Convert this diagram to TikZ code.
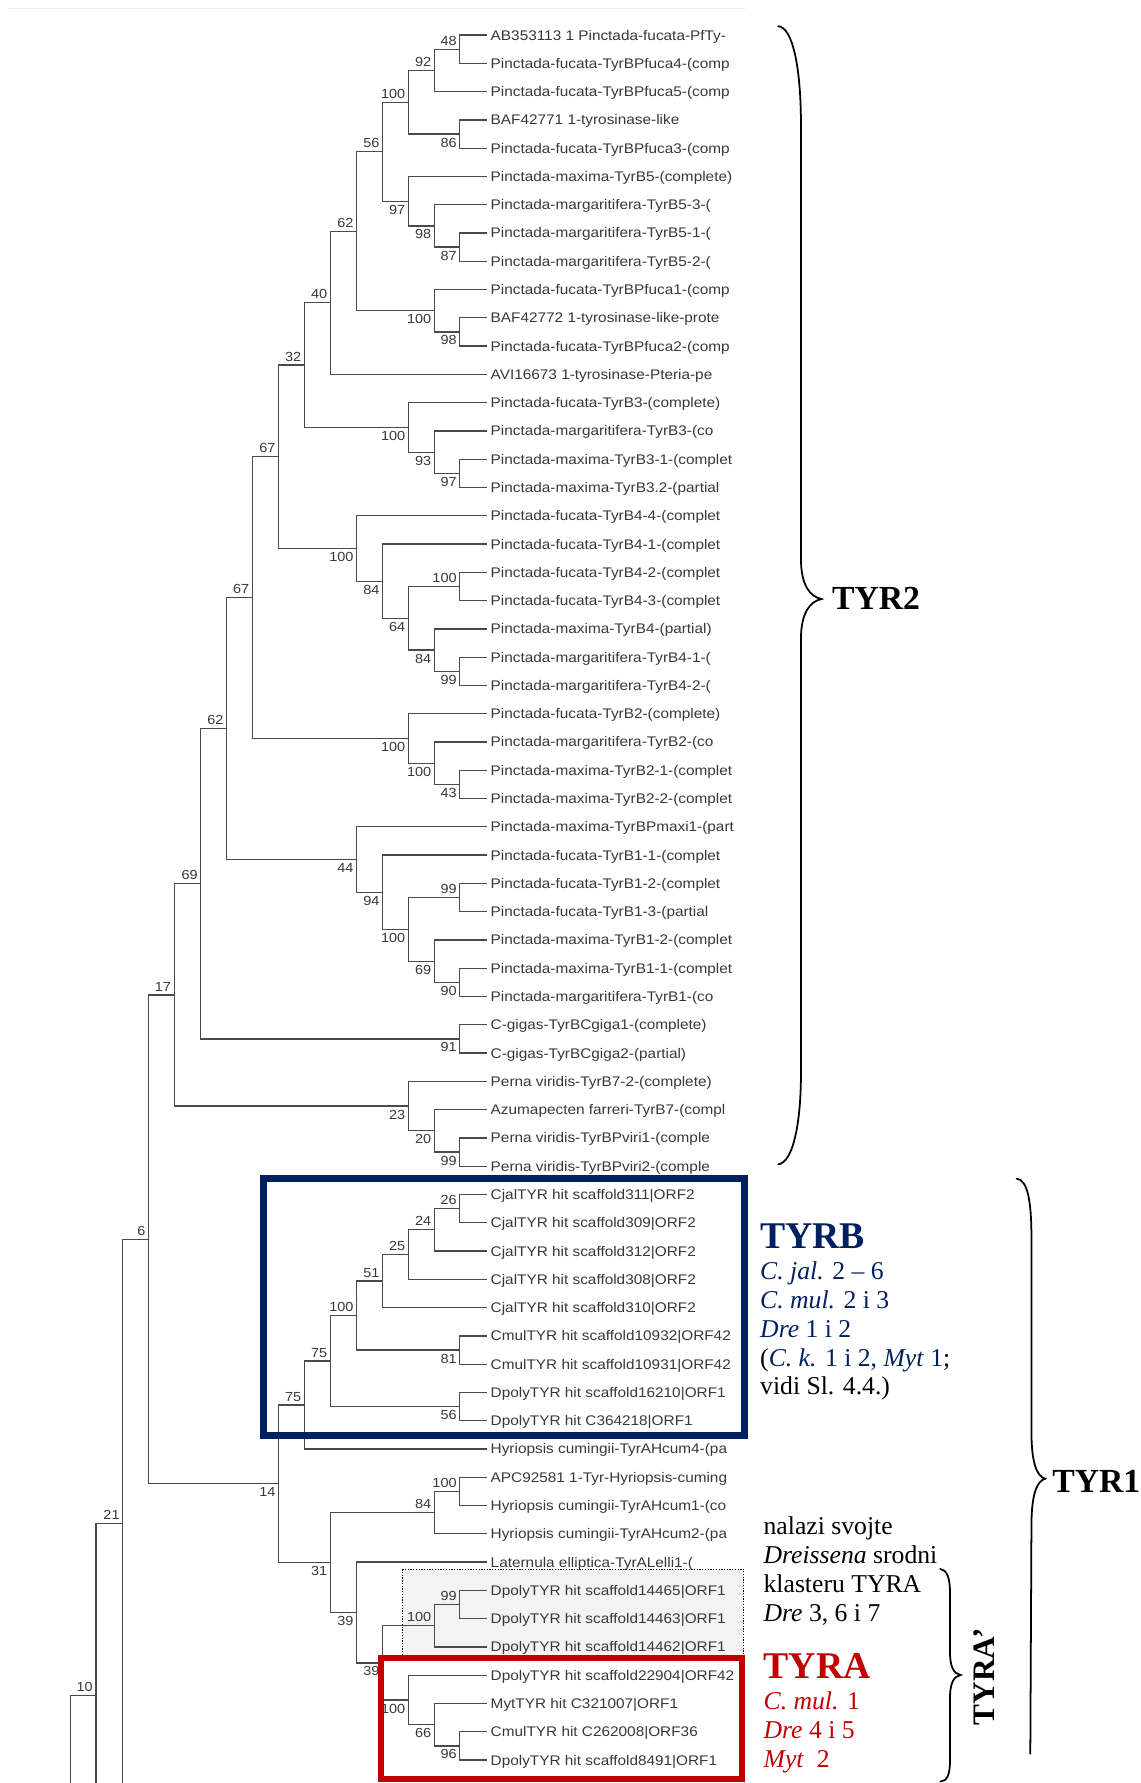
\documentclass[tikz,border=0pt]{standalone}
\usepackage{fontspec}
\setmainfont{Liberation Serif}
\newfontfamily\treefont[FakeStretch=1.1]{Liberation Sans}
\usetikzlibrary{calc}
\definecolor{tyrbblue}{HTML}{002060}
\definecolor{tyrared}{HTML}{C00000}
\definecolor{treegray}{HTML}{4A4A4A}
\definecolor{labgray}{HTML}{383838}
\definecolor{boxgray}{HTML}{F3F3F3}
\newcommand{\clade}[6]{%
\coordinate (#1m) at ($(#3)!.5!(#4)$);
\coordinate (#1) at (#2,0 |- #1m);
\draw[br] (#3) -| (#1) |- (#4);
\node[bs,#6] (#1b) at (#1) {#5};}

\begin{document}
\begin{tikzpicture}[x=0.025cm,y=-0.025cm,
leaf/.style={anchor=west,inner xsep=2pt,inner ysep=0pt,text height=6.2pt,text depth=0pt,font=\treefont\fontsize{8.7}{10}\selectfont,text=labgray},
bs/.style={inner xsep=1.8pt,inner ysep=2.2pt,font=\treefont\fontsize{8.2}{9}\selectfont,text=labgray},
bsup/.style={anchor=south east},
bsdn/.style={anchor=north east},
br/.style={draw=treegray,line width=.8pt},
note/.style={anchor=base west,inner sep=0pt,font=\fontsize{16}{18}\selectfont},
big/.style={anchor=base west,inner sep=0pt,font=\bfseries\fontsize{23.5}{26}\selectfont},
head/.style={anchor=base west,inner sep=0pt,font=\bfseries\fontsize{21}{24}\selectfont},
brace/.style={draw=black,line width=1.1pt,line cap=round}]
\useasboundingbox (0,0) rectangle (1000,1562.7);
\draw[gray!15,line width=.6pt] (6.7,7.3) -- (653,7.3);
\draw[fill=boxgray,line width=.6pt,dash pattern=on .8pt off .9pt] (353,1375.4) rectangle (652,1452);

% leaves
\foreach \lab [count=\i] in {AB353113 1 Pinctada-fucata-PfTy-,Pinctada-fucata-TyrBPfuca4-(comp,
Pinctada-fucata-TyrBPfuca5-(comp,BAF42771 1-tyrosinase-like,Pinctada-fucata-TyrBPfuca3-(comp,
Pinctada-maxima-TyrB5-(complete),Pinctada-margaritifera-TyrB5-3-(,Pinctada-margaritifera-TyrB5-1-(,
Pinctada-margaritifera-TyrB5-2-(,Pinctada-fucata-TyrBPfuca1-(comp,BAF42772 1-tyrosinase-like-prote,
Pinctada-fucata-TyrBPfuca2-(comp,AVI16673 1-tyrosinase-Pteria-pe,Pinctada-fucata-TyrB3-(complete),
Pinctada-margaritifera-TyrB3-(co,Pinctada-maxima-TyrB3-1-(complet,Pinctada-maxima-TyrB3.2-(partial,
Pinctada-fucata-TyrB4-4-(complet,Pinctada-fucata-TyrB4-1-(complet,Pinctada-fucata-TyrB4-2-(complet,
Pinctada-fucata-TyrB4-3-(complet,Pinctada-maxima-TyrB4-(partial),Pinctada-margaritifera-TyrB4-1-(,
Pinctada-margaritifera-TyrB4-2-(,Pinctada-fucata-TyrB2-(complete),Pinctada-margaritifera-TyrB2-(co,
Pinctada-maxima-TyrB2-1-(complet,Pinctada-maxima-TyrB2-2-(complet,Pinctada-maxima-TyrBPmaxi1-(part,
Pinctada-fucata-TyrB1-1-(complet,Pinctada-fucata-TyrB1-2-(complet,Pinctada-fucata-TyrB1-3-(partial,
Pinctada-maxima-TyrB1-2-(complet,Pinctada-maxima-TyrB1-1-(complet,Pinctada-margaritifera-TyrB1-(co,
C-gigas-TyrBCgiga1-(complete),C-gigas-TyrBCgiga2-(partial),Perna viridis-TyrB7-2-(complete),
Azumapecten farreri-TyrB7-(compl,Perna viridis-TyrBPviri1-(comple,Perna viridis-TyrBPviri2-(comple,
CjalTYR hit scaffold311|ORF2,CjalTYR hit scaffold309|ORF2,CjalTYR hit scaffold312|ORF2,
CjalTYR hit scaffold308|ORF2,CjalTYR hit scaffold310|ORF2,CmulTYR hit scaffold10932|ORF42,
CmulTYR hit scaffold10931|ORF42,DpolyTYR hit scaffold16210|ORF1,DpolyTYR hit C364218|ORF1,
Hyriopsis cumingii-TyrAHcum4-(pa,APC92581 1-Tyr-Hyriopsis-cuming,Hyriopsis cumingii-TyrAHcum1-(co,
Hyriopsis cumingii-TyrAHcum2-(pa,Laternula elliptica-TyrALelli1-(,DpolyTYR hit scaffold14465|ORF1,
DpolyTYR hit scaffold14463|ORF1,DpolyTYR hit scaffold14462|ORF1,DpolyTYR hit scaffold22904|ORF42,
MytTYR hit C321007|ORF1,CmulTYR hit C262008|ORF36,DpolyTYR hit scaffold8491|ORF1}
  \node[leaf] (l\i) at (427,{30.7+24.785*(\i-1)}) {\lab};

% TYR2 clades
\clade{c1}{403}{l1.west}{l2.west}{48}{bsup}
\clade{c2}{380.7}{c1}{l3.west}{92}{bsup}
\clade{c3}{403}{l4.west}{l5.west}{86}{bsdn}
\clade{c4}{358}{c2}{c3}{100}{bsup}
\clade{c5}{403}{l8.west}{l9.west}{87}{bsdn}
\clade{c6}{380.7}{l7.west}{c5}{98}{bsdn}
\clade{c7}{358}{l6.west}{c6}{97}{bsdn}
\clade{c8}{335.3}{c4}{c7}{56}{bsup}
\clade{c9}{403}{l11.west}{l12.west}{98}{bsdn}
\clade{c10}{380.7}{l10.west}{c9}{100}{bsdn}
\clade{c11}{312.6}{c8}{c10}{62}{bsup}
\clade{c12}{289.5}{c11}{l13.west}{40}{bsup}
\clade{c13}{403}{l16.west}{l17.west}{97}{bsdn}
\clade{c14}{380.7}{l15.west}{c13}{93}{bsdn}
\clade{c15}{358}{l14.west}{c14}{100}{bsdn}
\clade{c16}{266.8}{c12}{c15}{32}{bsup}
\clade{c17}{403}{l20.west}{l21.west}{100}{bsup}
\clade{c18}{403}{l23.west}{l24.west}{99}{bsdn}
\clade{c19}{380.7}{l22.west}{c18}{84}{bsdn}
\clade{c20}{358}{c17}{c19}{64}{bsdn}
\clade{c21}{335.3}{l19.west}{c20}{84}{bsdn}
\clade{c22}{312.6}{l18.west}{c21}{100}{bsdn}
\clade{c23}{244.3}{c16}{c22}{67}{bsup}
\clade{c24}{403}{l27.west}{l28.west}{43}{bsdn}
\clade{c25}{380.7}{l26.west}{c24}{100}{bsdn}
\clade{c26}{358}{l25.west}{c25}{100}{bsdn}
\clade{c27}{221.3}{c23}{c26}{67}{bsup}
\clade{c28}{403}{l31.west}{l32.west}{99}{bsup}
\clade{c29}{403}{l34.west}{l35.west}{90}{bsdn}
\clade{c30}{380.7}{l33.west}{c29}{69}{bsdn}
\clade{c31}{358}{c28}{c30}{100}{bsdn}
\clade{c32}{335.3}{l30.west}{c31}{94}{bsdn}
\clade{c33}{312.6}{l29.west}{c32}{44}{bsdn}
\clade{c34}{198.7}{c27}{c33}{62}{bsup}
\clade{c35}{403}{l36.west}{l37.west}{91}{bsdn}
\clade{c36}{176}{c34}{c35}{69}{bsup}
\clade{c37}{403}{l40.west}{l41.west}{99}{bsdn}
\clade{c38}{380.7}{l39.west}{c37}{20}{bsdn}
\clade{c39}{358}{l38.west}{c38}{23}{bsdn}
\clade{c40}{152.7}{c36}{c39}{17}{bsup}

% TYR1 clades
\clade{d1}{403}{l42.west}{l43.west}{26}{bsup}
\clade{d2}{380.7}{d1}{l44.west}{24}{bsup}
\clade{d3}{358}{d2}{l45.west}{25}{bsup}
\clade{d4}{335.3}{d3}{l46.west}{51}{bsup}
\clade{d5}{403}{l47.west}{l48.west}{81}{bsdn}
\clade{d6}{312.6}{d4}{d5}{100}{bsup}
\clade{d7}{403}{l49.west}{l50.west}{56}{bsdn}
\clade{d8}{289.5}{d6}{d7}{75}{bsup}
\clade{d9}{266.8}{d8}{l51.west}{75}{bsup}
\clade{d10}{403}{l52.west}{l53.west}{100}{bsup}
\clade{d11}{380.7}{d10}{l54.west}{84}{bsup}
\clade{d12}{403}{l56.west}{l57.west}{99}{bsup}
\clade{d13}{380.7}{d12}{l58.west}{100}{bsup}
\clade{d14}{403}{l61.west}{l62.west}{96}{bsdn}
\clade{d15}{380.7}{l60.west}{d14}{66}{bsdn}
\clade{d16}{358}{l59.west}{d15}{100}{bsdn}
\clade{d17}{335.3}{d13}{d16}{39}{bsdn}
\clade{d18}{312.6}{l55.west}{d17}{39}{bsdn}
\clade{d19}{289.5}{d11}{d18}{31}{bsdn}
\clade{d20}{244.3}{d9}{d19}{14}{bsdn}
\clade{d21}{130.3}{c40}{d20}{6}{bsup}

% stem, cut at the lower edge
\coordinate (r21) at (107.6,1335);
\coordinate (e21) at (107.6,1562.7);
\draw[br] (d21) -| (r21) -- (e21);
\node[bs,bsup] (r21b) at (r21) {21};
\coordinate (r10) at (84.1,1486);
\coordinate (e10) at (84.1,1562.7);
\draw[br] (r21) -| (r10) -- (e10);
\node[bs,bsup] (r10b) at (r10) {10};
\coordinate (e0) at (61.8,1562.7);
\draw[br] (r10) -| (e0);

% frames
\draw[tyrbblue,line width=4.6pt] (231,1033) rectangle (652.5,1258);
\draw[tyrared,line width=3.6pt] (334,1453) rectangle (650,1559);

% TYRB
\node[big,text=tyrbblue] (tyrb) at (666,1094.2) {TYRB};
\node[note,text=tyrbblue] (tb1) at (666,1121.8) {\textit{C. jal.} 2 – 6};
\node[note,text=tyrbblue] (tb2) at (666,1147) {\textit{C. mul.} 2 i 3};
\node[note,text=tyrbblue] (tb3) at (666,1172.2) {\textit{Dre} 1 i 2};
\node[note] (tb4) at (666,1197.4) {(\textcolor{tyrbblue}{\textit{C. k.} 1 i 2, \textit{Myt} 1};};
\node[note] (tb5) at (666,1222.6) {vidi Sl. 4.4.)};

% Dreissena note
\node[note] (dn1) at (669,1345.3) {nalazi svojte};
\node[note] (dn2) at (669,1370.3) {\textit{Dreissena} srodni};
\node[note] (dn3) at (669,1395.8) {klasteru TYRA};
\node[note] (dn4) at (669,1421.3) {\textit{Dre} 3, 6 i 7};

% TYRA
\node[big,text=tyrared] (tyra) at (669,1471) {TYRA};
\node[note,text=tyrared] (ta1) at (669,1498.7) {\textit{C. mul.} 1};
\node[note,text=tyrared] (ta2) at (669,1523.5) {\textit{Dre} 4 i 5};
\node[note,text=tyrared] (ta3) at (669,1549) {\textit{Myt}\ \ 2};

% braces
\draw[brace] (682,23) .. controls (695,24) and (702,60) .. (702,110) -- (702,490)
  .. controls (702,513) and (710,523) .. (720,525) .. controls (710,527) and (702,537) .. (702,560)
  -- (702,940) .. controls (702,985) and (695,1019) .. (682,1020.5);
\node[head] (tyr2) at (729,534.5) {TYR2};
\draw[brace] (891,1033) .. controls (900,1034) and (904,1050) .. (904,1085) -- (904,1255)
  .. controls (904,1283) and (909,1294) .. (916,1296) .. controls (909,1298) and (904,1309) .. (904,1337)
  -- (903,1537);
\node[head] (tyr1) at (922,1308) {TYR1};
\draw[brace] (824,1375) .. controls (830,1376) and (832.6,1383) .. (832.6,1396) -- (832.6,1448)
  .. controls (832.6,1461) and (836,1467) .. (842,1468) .. controls (836,1469) and (832.6,1475) .. (832.6,1488)
  -- (832.6,1543) .. controls (832.6,1556) and (830,1561) .. (824,1561.5);
\node[anchor=base,rotate=90,inner sep=0pt,font=\bfseries\fontsize{19.5}{22}\selectfont] (tyrap) at (871.5,1469.5) {TYRA’};
\end{tikzpicture}
\end{document}
